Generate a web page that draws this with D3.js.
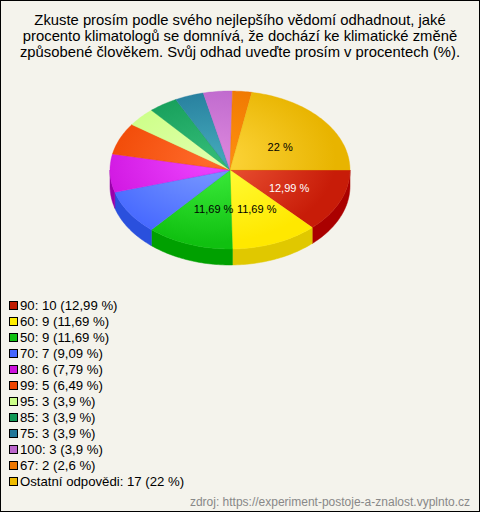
<!DOCTYPE html>
<html><head><meta charset="utf-8">
<script src="https://cdn.jsdelivr.net/npm/d3@7"></script>
<style>
html,body{margin:0;padding:0;background:#f4f3ec;}
svg{display:block;font-family:"Liberation Sans",Arial,sans-serif;}
</style></head>
<body>
<script>
const titleLines = [
  "Zkuste prosím podle svého nejlepšího vědomí odhadnout, jaké",
  "procento klimatologů se domnívá, že dochází ke klimatické změně",
  "způsobené člověkem. Svůj odhad uveďte prosím v procentech (%)."
];
const categories = ["90","60","50","70","80","99","95","85","75","100","67","Ostatní odpovědi"];
const counts =     [10, 9, 9, 7, 6, 5, 3, 3, 3, 3, 2, 17];
const percents =   [12.99, 11.69, 11.69, 9.09, 7.79, 6.49, 3.9, 3.9, 3.9, 3.9, 2.6, 22];
const baseColors = ["#c81c08","#ffe800","#10c010","#4466ff","#cc11dd","#ee4400","#c8ff80","#119955","#227799","#bb66cc","#ee7700","#e8b400"];
const lightColors= ["#f05a3a","#ffff40","#40f040","#7c9cff","#ee44ff","#ff6a2a","#e0ffaa","#33bb77","#44aabb","#dd88dd","#ff9010","#ffd840"];
const sideColors = ["#aa0000","#e0c800","#00a000","#2a50dd","#9900aa","#cc3300","#a8dd60","#0b7a40","#185e7a","#995099","#c85a00","#c89a00"];
const legendColors=["#c01a00","#ffee00","#10c010","#4466ff","#cc11dd","#ee4400","#ccff88","#119955","#227799","#bb66cc","#ee7700","#eebb00"];
const footer = "zdroj: https://experiment-postoje-a-znalost.vyplnto.cz";

const W = 480, H = 512;
const svg = d3.select("body").append("svg").attr("width", W).attr("height", H);
svg.append("rect").attr("x",0.5).attr("y",0.5).attr("width",W-1).attr("height",H-1)
  .attr("fill","#f4f3ec").attr("stroke","#000");

// title
svg.append("g").selectAll("text").data(titleLines).join("text")
  .attr("x", 240).attr("y", (d,i) => 25 + i*16)
  .attr("text-anchor","middle").attr("font-size",14.8).attr("fill","#000")
  .text(d => d);

// pie geometry
const cx = 230, cy = 170, rx = 120, ry = 79, depth = 16;
const sx = d3.scaleLinear().domain([-1,1]).range([cx-rx, cx+rx]);
const sy = d3.scaleLinear().domain([-1,1]).range([cy-ry, cy+ry]);
const pt = (a, dz=0) => [sx(Math.sin(a)), sy(-Math.cos(a)) + dz];

const data = categories.map((c,i) => ({cat:c, count:counts[i], pct:percents[i], i}));
const arcs = d3.pie().sort(null).value(d => d.count)
  .startAngle(Math.PI/2).endAngle(Math.PI/2 + 2*Math.PI)(data);
const total = d3.sum(counts);
const line = d3.line();

const defs = svg.append("defs");
data.forEach((d,i) => {
  const g = defs.append("radialGradient").attr("id","g"+i)
    .attr("gradientUnits","userSpaceOnUse").attr("cx",cx-20).attr("cy",cy-10).attr("r",rx*1.05)
    .attr("gradientTransform", `translate(${cx-20},${cy-10}) scale(1,${ry/rx}) translate(${-(cx-20)},${-(cy-10)})`);
  g.append("stop").attr("offset","0%").attr("stop-color",lightColors[i]);
  g.append("stop").attr("offset","100%").attr("stop-color",baseColors[i]);
});

function samples(a0, a1) {
  const n = Math.max(2, Math.ceil((a1-a0)/0.02));
  return d3.range(n+1).map(k => a0 + (a1-a0)*k/n);
}

// side walls (visible front half: PI/2 .. 3PI/2, modulo 2PI)
const sideG = svg.append("g");
arcs.forEach(a => {
  for (const off of [0, 2*Math.PI, -2*Math.PI]) {
    const s0 = Math.max(a.startAngle+off, Math.PI/2), s1 = Math.min(a.endAngle+off, 3*Math.PI/2);
    if (s1 > s0) {
      const angs = samples(s0, s1);
      const pts = angs.map(t => pt(t)).concat(angs.slice().reverse().map(t => pt(t, depth)));
      sideG.append("path").attr("d", line(pts) + "Z").attr("fill", sideColors[a.data.i])
        .attr("stroke", sideColors[a.data.i]).attr("stroke-width",0.5);
    }
  }
});

// top faces
const topG = svg.append("g");
arcs.forEach(a => {
  const pts = [[cx,cy]].concat(samples(a.startAngle, a.endAngle).map(t => pt(t)));
  topG.append("path").attr("d", line(pts) + "Z").attr("fill", `url(#g${a.data.i})`)
    .attr("stroke", baseColors[a.data.i]).attr("stroke-width",0.4);
});

// labels
const fmt = v => String(v).replace(".", ",") + " %";
svg.append("g").selectAll("text").data(arcs.filter(a => a.data.count/total >= 0.1)).join("text")
  .attr("x", a => { const m=(a.startAngle+a.endAngle)/2; return sx(0.5*Math.sin(m)) + 4; })
  .attr("y", a => { const m=(a.startAngle+a.endAngle)/2; return sy(-0.5*Math.cos(m)) + 6; })
  .attr("text-anchor","middle").attr("font-size",11)
  .attr("fill", a => a.data.cat === "90" ? "#fff" : "#000")
  .text(a => fmt(a.data.pct));

// legend
const lg = svg.append("g");
const rows = lg.selectAll("g").data(data).join("g")
  .attr("transform", (d,i) => `translate(0,${305 + i*16})`);
rows.append("rect").attr("x",9.5).attr("y",-3.5).attr("width",8).attr("height",8)
  .attr("fill", d => legendColors[d.i]).attr("stroke","#000").attr("stroke-width",1);
rows.append("text").attr("x",20).attr("y",5).attr("font-size",13.2).attr("fill","#000")
  .text(d => `${d.cat}: ${d.count} (${fmt(d.pct)})`);

// footer
svg.append("text").attr("x",470).attr("y",506).attr("text-anchor","end")
  .attr("font-size",12).attr("fill","#888").text(footer);
</script>
</body></html>
